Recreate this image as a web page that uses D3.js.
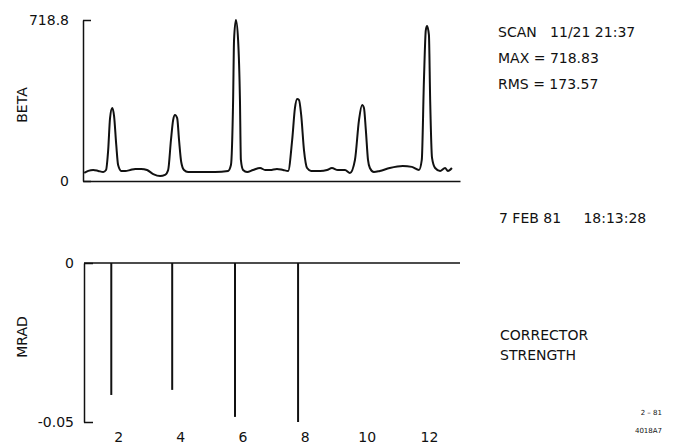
<!DOCTYPE html>
<html>
<head>
<meta charset="utf-8">
<script src="https://cdn.jsdelivr.net/npm/d3@7"></script>
<style>
  body { margin: 0; background: #fff; }
  svg text { font-family: "DejaVu Sans", sans-serif; fill: #111; white-space: pre; }
</style>
</head>
<body>
<svg id="chart" width="674" height="445"></svg>
<script>
// beta function along the scan (position, beta)
var betaPos = [0.91,1.04,1.20,1.36,1.52,1.61,1.68,1.74,1.81,1.87,1.94,2.00,2.10,2.23,2.39,2.55,2.74,2.93,3.13,3.35,3.51,3.61,3.70,3.77,3.83,3.90,3.96,4.03,4.12,4.25,4.64,5.12,5.54,5.63,5.70,5.73,5.79,5.86,5.92,5.95,6.02,6.15,6.34,6.57,6.73,6.89,7.11,7.31,7.47,7.60,7.69,7.76,7.82,7.89,7.98,8.08,8.21,8.50,8.72,8.88,9.07,9.30,9.46,9.62,9.75,9.85,9.91,9.97,10.04,10.10,10.23,10.42,10.74,11.16,11.45,11.68,11.77,11.84,11.90,11.94,12.00,12.04,12.10,12.20,12.36,12.52,12.61,12.74];
var betaVal = [36,45,49,45,40,49,138,281,326,290,161,71,45,45,49,54,54,49,31,22,27,49,183,272,295,281,183,85,49,40,40,40,45,71,362,630,718.8,630,362,94,49,40,49,58,49,49,54,49,45,183,326,366,362,295,138,58,45,45,49,58,49,49,36,94,272,339,326,228,94,58,40,45,58,67,63,49,94,451,674,692,652,362,103,58,45,58,45,58];

// corrector kicks (position, mrad)
var corrPos = [1.78,3.74,5.76,7.79];
var corrVal = [-0.0415,-0.0399,-0.0484,-0.0500];

var xTicks = [2,4,6,8,10,12];
var betaTicks = [0,718.8];
var mradTicks = [-0.05,0];

var infoLines = ["SCAN   11/21 21:37","MAX = 718.83","RMS = 173.57"];
var stamp = "7 FEB 81     18:13:28";
var corrLabel = ["CORRECTOR","STRENGTH"];
var figId = ["2 \u2013 81","4018A7"];

var svg = d3.select('#chart');

var x = d3.scaleLinear().domain([0.87,13.0]).range([83,460]);
var yTop = d3.scaleLinear().domain([0,718.8]).range([181,20]);
var yBot = d3.scaleLinear().domain([-0.05,0]).range([422,263]);

// top panel axes
svg.append('g')
   .attr('transform','translate(83,0)')
   .call(d3.axisLeft(yTop).tickValues(betaTicks).tickSizeInner(-8).tickSizeOuter(0).tickPadding(14)
         .tickFormat(function(d){return d===0 ? '0' : '718.8'}))
   .call(function(g){ g.selectAll('text').attr('font-size',14).style('font-family','DejaVu Sans'); });
svg.append('g')
   .attr('transform','translate(0,181)')
   .call(d3.axisBottom(x).tickValues([]).tickSizeOuter(0));

// bottom panel axes
svg.append('g')
   .attr('transform','translate(84,0)')
   .call(d3.axisLeft(yBot).tickValues(mradTicks).tickSizeInner(-9).tickSizeOuter(0).tickPadding(10)
         .tickFormat(function(d){return d===0 ? '0' : '-0.05'}))
   .call(function(g){ g.selectAll('text').attr('font-size',14).style('font-family','DejaVu Sans'); });
svg.append('line')
   .attr('x1',84).attr('x2',x.range()[1])
   .attr('y1',yBot(0)).attr('y2',yBot(0))
   .attr('stroke','#111').attr('stroke-width',1.5);
svg.append('g')
   .attr('transform','translate(0,430)')
   .call(d3.axisBottom(x).tickValues(xTicks).tickSize(0).tickPadding(2))
   .call(function(g){ g.select('.domain').remove(); g.selectAll('text').attr('font-size',14).style('font-family','DejaVu Sans'); });

svg.selectAll('.domain, .tick line').attr('stroke','#111').attr('stroke-width',1.5);

// beta curve
var pts = betaPos.map(function(p,i){ return [p, betaVal[i]]; });
var line = d3.line()
   .x(function(d){return x(d[0])})
   .y(function(d){return yTop(d[1])})
   .curve(d3.curveMonotoneX);
svg.append('path')
   .attr('d', line(pts))
   .attr('fill','none')
   .attr('stroke','#111')
   .attr('stroke-width',2);

// corrector bars
svg.selectAll('line.corr').data(corrPos).enter()
   .append('line').attr('class','corr')
   .attr('x1',function(d){return x(d)}).attr('x2',function(d){return x(d)})
   .attr('y1',yBot(0))
   .attr('y2',function(d,i){return yBot(corrVal[i])})
   .attr('stroke','#111').attr('stroke-width',2);

// axis titles
svg.append('text').attr('transform','translate(27,105) rotate(-90)')
   .attr('text-anchor','middle').attr('font-size',14).text('BETA');
svg.append('text').attr('transform','translate(27,337) rotate(-90)')
   .attr('text-anchor','middle').attr('font-size',14).text('MRAD');

// right side notes
svg.selectAll('text.info').data(infoLines).enter()
   .append('text').attr('class','info')
   .attr('x',498).attr('y',function(d,i){return 37 + i*26})
   .attr('font-size',14).text(function(d){return d});
svg.append('text').attr('x',499).attr('y',223).attr('font-size',14).text(stamp);
svg.selectAll('text.corrlab').data(corrLabel).enter()
   .append('text').attr('class','corrlab')
   .attr('x',500).attr('y',function(d,i){return 340 + i*20})
   .attr('font-size',14).text(function(d){return d});
svg.selectAll('text.fig').data(figId).enter()
   .append('text').attr('class','fig')
   .attr('x',662).attr('y',function(d,i){return 415 + i*18})
   .attr('text-anchor','end').attr('font-size',7).text(function(d){return d});
</script>
</body>
</html>
